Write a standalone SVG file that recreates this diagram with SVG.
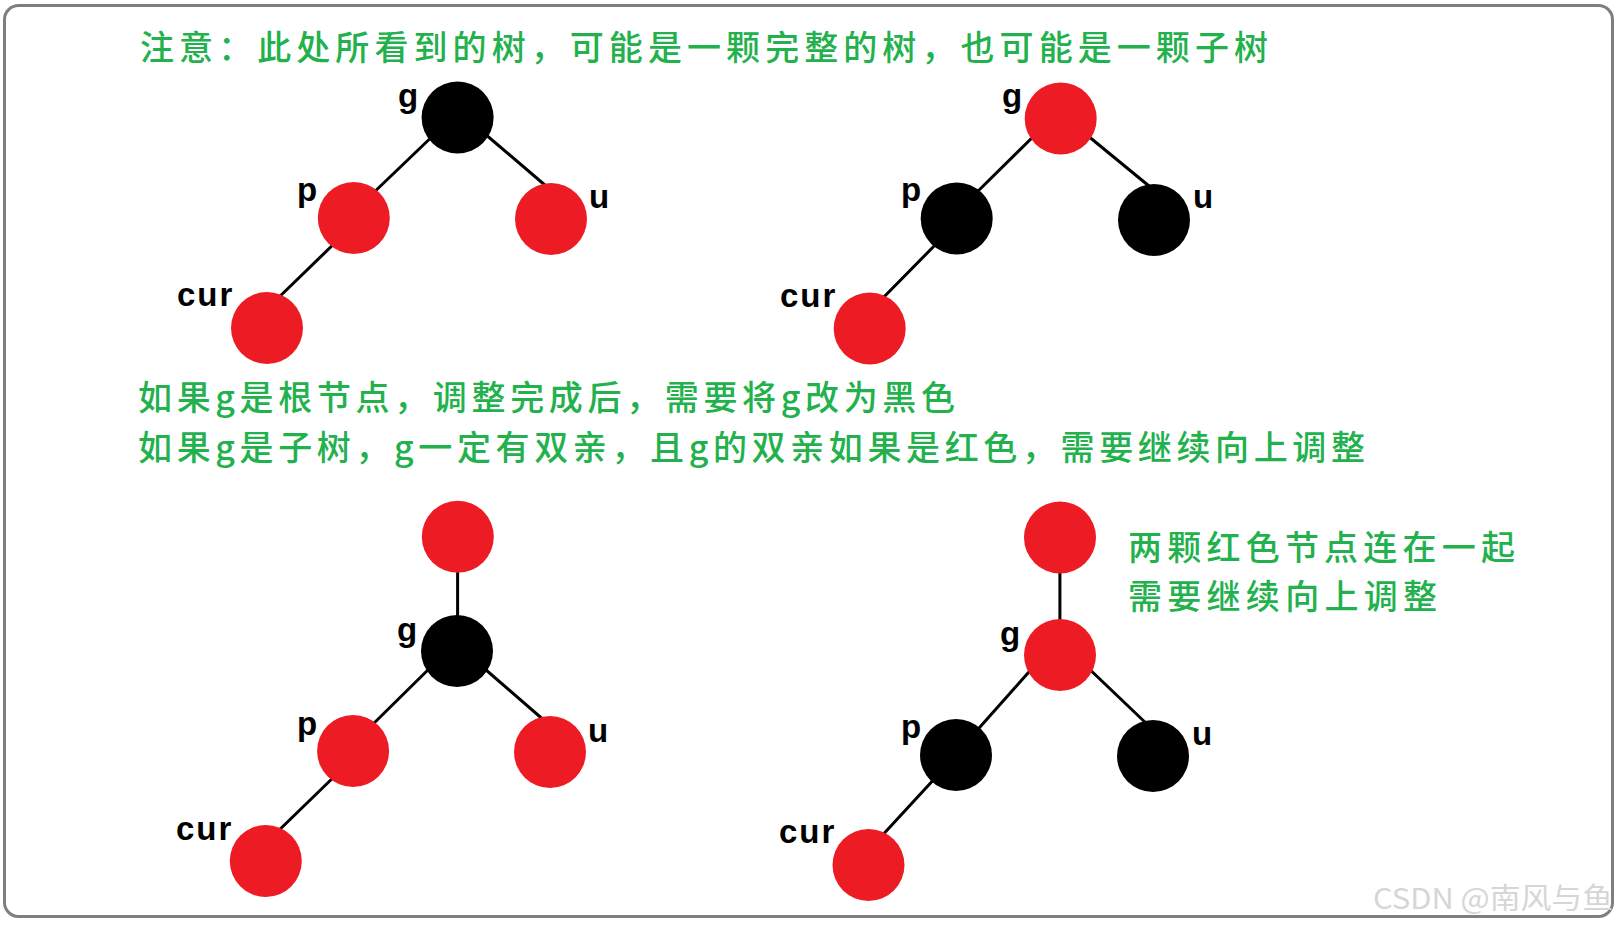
<svg xmlns="http://www.w3.org/2000/svg" width="1620" height="926" viewBox="0 0 1620 926">
<style>
.red{fill:#ed1c24}
.blk{fill:#000}
.lbl{font-family:"Liberation Sans",Arial,sans-serif;font-weight:bold;font-size:33px;fill:#000;letter-spacing:2px}
.note{font-family:"Noto Sans CJK SC","Noto Sans",sans-serif;font-size:34px;font-weight:500;fill:#22b14c}
.edge{stroke:#000;stroke-width:3;fill:none;stroke-linecap:round}
.wm{font-family:"Noto Sans CJK SC","Liberation Sans",sans-serif;font-size:29px;fill:#d6d6d6}
</style>
<rect x="0" y="0" width="1620" height="926" fill="#fff"/>
<rect id="frame" x="4.5" y="5.5" width="1608" height="911" rx="14" ry="14" fill="#fff" stroke="#7f7f7f" stroke-width="3"/>

<g id="notes">
<text class="note" x="140" y="60" textLength="1128" lengthAdjust="spacing">注意：此处所看到的树，可能是一颗完整的树，也可能是一颗子树</text>
<text class="note" x="138" y="410" textLength="817" lengthAdjust="spacing">如果g是根节点，调整完成后，需要将g改为黑色</text>
<text class="note" x="138" y="460" textLength="1227" lengthAdjust="spacing">如果g是子树，g一定有双亲，且g的双亲如果是红色，需要继续向上调整</text>
<text class="note" x="1128" y="560" textLength="387" lengthAdjust="spacing">两颗红色节点连在一起</text>
<text class="note" x="1128" y="609" textLength="309" lengthAdjust="spacing">需要继续向上调整</text>
</g>

<g id="connectors">
<line class="edge" x1="440" y1="129" x2="368" y2="198"/>
<line class="edge" x1="478" y1="128" x2="546" y2="186"/>
<line class="edge" x1="340" y1="238" x2="273" y2="303"/>
<line class="edge" x1="1042" y1="128" x2="971" y2="198"/>
<line class="edge" x1="1082" y1="131" x2="1149" y2="186"/>
<line class="edge" x1="941" y1="239" x2="877" y2="304"/>
<line class="edge" x1="457.6" y1="565" x2="457.6" y2="622"/>
<line class="edge" x1="436" y1="662" x2="366" y2="731"/>
<line class="edge" x1="478" y1="663" x2="546" y2="722"/>
<line class="edge" x1="340" y1="771" x2="272" y2="837"/>
<line class="edge" x1="1059.9" y1="565" x2="1059.9" y2="626"/>
<line class="edge" x1="1036" y1="664" x2="972" y2="736"/>
<line class="edge" x1="1083" y1="663" x2="1149" y2="726"/>
<line class="edge" x1="937" y1="776" x2="878" y2="840"/>
</g>

<g id="t1-g"><circle class="blk" cx="457.6" cy="117.5" r="36"/><text class="lbl" x="398" y="107">g</text></g>
<g id="t1-p"><circle class="red" cx="353.8" cy="218" r="36"/><text class="lbl" x="297" y="201">p</text></g>
<g id="t1-u"><circle class="red" cx="551" cy="219" r="36"/><text class="lbl" x="589" y="208">u</text></g>
<g id="t1-cur"><circle class="red" cx="267" cy="328" r="36"/><text class="lbl" x="177" y="306">cur</text></g>

<g id="t2-g"><circle class="red" cx="1060.7" cy="118.5" r="36"/><text class="lbl" x="1002" y="107">g</text></g>
<g id="t2-p"><circle class="blk" cx="956.7" cy="218.5" r="36"/><text class="lbl" x="901" y="201">p</text></g>
<g id="t2-u"><circle class="blk" cx="1154" cy="220" r="36"/><text class="lbl" x="1193" y="208">u</text></g>
<g id="t2-cur"><circle class="red" cx="869.7" cy="328.5" r="36"/><text class="lbl" x="780" y="307">cur</text></g>

<g id="t3-parent"><circle class="red" cx="457.8" cy="536.7" r="36"/></g>
<g id="t3-g"><circle class="blk" cx="457" cy="651" r="36"/><text class="lbl" x="397" y="641">g</text></g>
<g id="t3-p"><circle class="red" cx="353.1" cy="751" r="36"/><text class="lbl" x="297" y="735">p</text></g>
<g id="t3-u"><circle class="red" cx="550" cy="752" r="36"/><text class="lbl" x="588" y="742">u</text></g>
<g id="t3-cur"><circle class="red" cx="265.8" cy="861" r="36"/><text class="lbl" x="176" y="840">cur</text></g>

<g id="t4-parent"><circle class="red" cx="1060" cy="537.5" r="36"/></g>
<g id="t4-g"><circle class="red" cx="1060" cy="655" r="36"/><text class="lbl" x="1000" y="645">g</text></g>
<g id="t4-p"><circle class="blk" cx="956" cy="755" r="36"/><text class="lbl" x="901" y="738">p</text></g>
<g id="t4-u"><circle class="blk" cx="1153" cy="756" r="36"/><text class="lbl" x="1192" y="745">u</text></g>
<g id="t4-cur"><circle class="red" cx="868.5" cy="865" r="36"/><text class="lbl" x="779" y="843">cur</text></g>

<text class="wm" x="1373" y="909" textLength="240" lengthAdjust="spacingAndGlyphs">CSDN @南风与鱼</text>
</svg>
